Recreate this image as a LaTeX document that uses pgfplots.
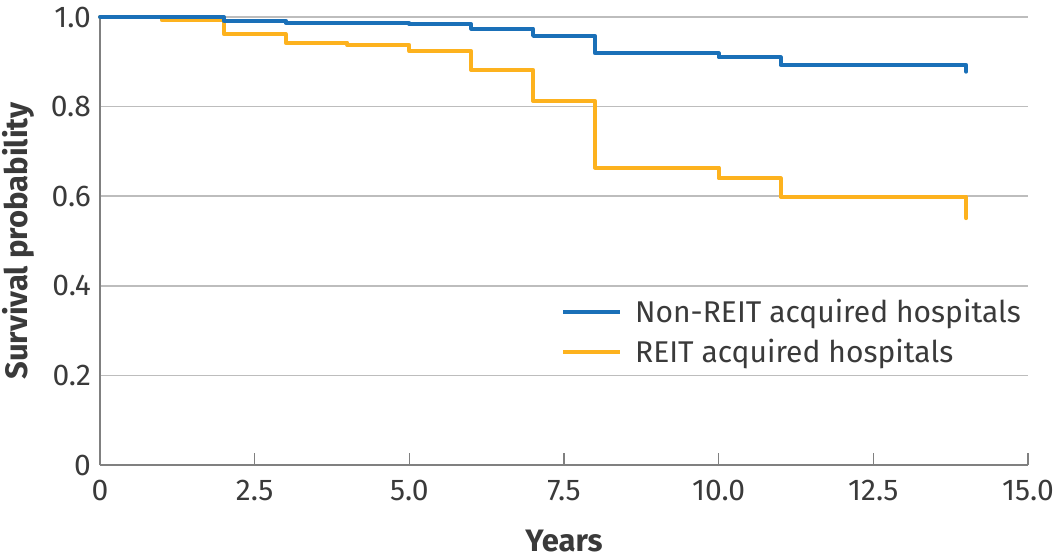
\documentclass[border=0pt]{standalone}
\usepackage{pgfplots}
\pgfplotsset{compat=1.18}
\usepackage{fontspec}
\setmainfont{Fira Sans}
\definecolor{cblue}{HTML}{1A70B8}
\definecolor{corange}{HTML}{FDB21E}
\definecolor{ctext}{HTML}{3A3A3A}
\definecolor{cgrid}{HTML}{BDBDBD}
\definecolor{caxis}{HTML}{808080}
\begin{document}
\begin{tikzpicture}
\useasboundingbox (-50pt,-47pt) rectangle (479pt,232.5pt);
\begin{axis}[
  at={(0pt,0pt)}, anchor=south west,
  scale only axis,
  width=464pt, height=224pt,
  xmin=0, xmax=15, ymin=0, ymax=1,
  axis lines=left,
  axis line style={caxis, line width=1pt, -},
  xtick={0,2.5,5,7.5,10,12.5,15},
  xticklabels={0,2.5,5.0,7.5,10.0,12.5,15.0},
  ytick={0,0.2,0.4,0.6,0.8,1.0},
  yticklabels={0,0.2,0.4,0.6,0.8,1.0},
  ymajorgrids,
  grid style={cgrid, line width=0.8pt},
  tick align=inside,
  major tick length=6pt,
  xtick style={caxis, line width=0.7pt},
  ytick style={draw=none},
  tick label style={font=\fontsize{15}{18}\selectfont, text=ctext},
  xticklabel style={yshift=-4pt},
  yticklabel style={xshift=-1pt},
  xlabel={\bfseries Years},
  ylabel={\bfseries Survival probability},
  label style={font=\fontsize{15.5}{18}\selectfont, text=ctext, inner sep=0pt},
  xlabel style={at={(axis description cs:0.5,0)}, anchor=north, yshift=-32.5pt},
  ylabel style={at={(axis description cs:0,0.5)}, anchor=south, yshift=32.5pt},
  legend style={draw=none, fill=none, at={(0.49,0.39)}, anchor=north west,
    font=\fontsize{15}{18}\selectfont, text=ctext, row sep=3pt},
  legend cell align=left,
  reverse legend,
  legend image code/.code={\draw[#1, line cap=butt] (0pt,0pt) -- (28.5pt,0pt); \path (33pt,0pt);},
  clip=false,
]
\addplot[corange, line width=2pt, line cap=round, line join=round, const plot] coordinates {
 (0,1) (1,0.993) (2,0.962) (3,0.943) (4,0.9375) (5,0.924) (6,0.882) (7,0.813)
 (8,0.664) (10,0.640) (11,0.599) (14,0.599) (14,0.551)};
\addlegendentry{REIT acquired hospitals}
\addplot[cblue, line width=2pt, line cap=round, line join=round, const plot] coordinates {
 (0,1) (2,0.992) (3,0.987) (5,0.984) (6,0.974) (7,0.958) (8,0.919)
 (10,0.910) (11,0.893) (14,0.893) (14,0.878)};
\addlegendentry{Non-REIT acquired hospitals}
\end{axis}
\end{tikzpicture}
\end{document}
